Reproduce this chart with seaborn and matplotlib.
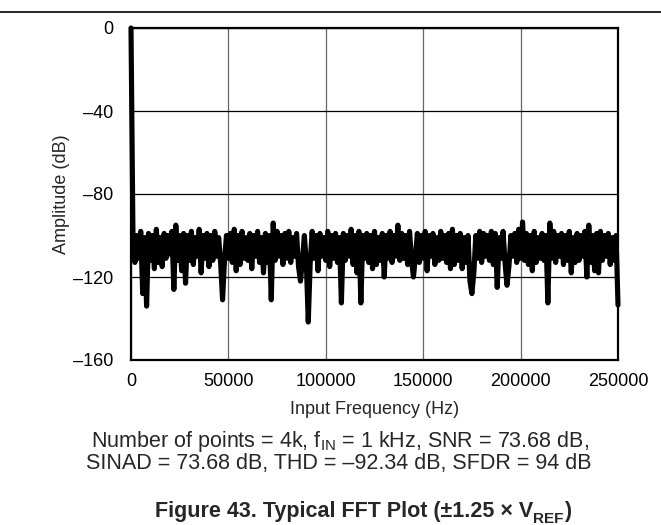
import numpy as np
import pandas as pd
import matplotlib
matplotlib.use("Agg")
import matplotlib.pyplot as plt
import seaborn as sns

# FFT amplitude (dB), one value per 1 kHz from 0 to 250 kHz
amp_db = [
    0, -99, -113, -100, -111, -98, -128, -101, -134, -99,
    -112, -100, -116, -97, -113, -101, -115, -99, -111, -100,
    -109, -98, -126, -95, -112, -100, -117, -99, -123, -100,
    -112, -98, -114, -101, -110, -97, -118, -100, -111, -99,
    -115, -100, -112, -98, -110, -101, -113, -131, -112, -100,
    -111, -99, -113, -97, -117, -100, -114, -98, -111, -101,
    -112, -99, -116, -100, -110, -98, -113, -101, -118, -99,
    -113, -100, -131, -94, -112, -98, -110, -100, -114, -99,
    -111, -98, -113, -101, -110, -99, -115, -122, -112, -100,
    -113, -141.7, -113, -98, -111, -100, -117, -99, -110, -101,
    -112, -98, -115, -100, -111, -99, -113, -101, -132.5, -99,
    -112, -100, -110, -97, -114, -100, -118, -98, -132.5, -100,
    -111, -99, -113, -100, -116, -98, -114, -101, -112, -99,
    -120, -100, -111, -98, -113, -100, -110, -95, -112, -99,
    -111, -100, -114, -98, -112, -120, -110, -99, -113, -100,
    -111, -98, -117, -100, -110, -99, -114, -101, -112, -98,
    -111, -100, -113, -99, -116, -97, -114, -100, -112, -99,
    -116, -101, -113, -100, -122, -128, -118, -100, -111, -98,
    -113, -99, -110, -100, -112, -98, -114, -99, -125, -101,
    -111, -98, -113, -124, -115, -100, -110, -99, -113, -97,
    -111, -93.5, -112, -99, -114, -100, -117, -98, -113, -101,
    -111, -99, -112, -100, -132.5, -94, -111, -98, -113, -100,
    -110, -99, -114, -100, -112, -98, -118, -101, -113, -99,
    -112, -100, -110, -98, -120, -95, -113, -100, -117, -99,
    -118, -98, -112, -100, -110, -99, -114, -101, -112, -100,
    -133.5,
]
bin_width_hz = 1000
x_ticks = [0, 50000, 100000, 150000, 200000, 250000]
y_ticks = [0, -40, -80, -120, -160]
y_tick_labels = ["0", "\u201340", "\u201380", "\u2013120", "\u2013160"]

df = pd.DataFrame({
    "freq": np.arange(len(amp_db)) * bin_width_hz,
    "amp": amp_db,
})

sns.set_style("white")
plt.rcParams["font.family"] = ["Liberation Sans", "DejaVu Sans"]

W, H = 661, 525
fig = plt.figure(figsize=(W / 100, H / 100), dpi=100)
ax = fig.add_axes([131 / W, 1 - 360 / H, (618 - 131) / W, (360 - 28) / H])

sns.lineplot(data=df, x="freq", y="amp", ax=ax, color="black", linewidth=3.7,
             estimator=None, sort=False, clip_on=False,
             solid_joinstyle="round", solid_capstyle="round")

ax.set_xlim(0, 250000)
ax.set_ylim(-160, 0)
ax.set_xticks(x_ticks)
ax.set_xticklabels([str(t) for t in x_ticks])
ax.set_yticks(y_ticks)
ax.set_yticklabels(y_tick_labels)
ax.tick_params(axis="both", length=0, labelsize=13, colors="black")
ax.tick_params(axis="y", pad=13)
ax.tick_params(axis="x", pad=9)
ax.grid(True, axis="y", color="black", linewidth=0.9)
ax.grid(True, axis="x", color="#666666", linewidth=0.9)
ax.set_axisbelow(True)
for s in ax.spines.values():
    s.set_color("black")
    s.set_linewidth(1.6)

ax.set_xlabel("Input Frequency (Hz)", fontsize=13, labelpad=8)
ax.set_ylabel("Amplitude (dB)", fontsize=13, labelpad=2)

# page header rule
fig.add_artist(plt.Line2D([0, 1], [1 - 12 / H, 1 - 12 / H], color="black", linewidth=1.2))

fig.text(340 / W, 1 - 441 / H, "Number of points = 4k, f$_\\mathregular{IN}$ = 1 kHz, SNR = 73.68 dB,",
         ha="center", va="center", fontsize=15.5)
fig.text(339 / W, 1 - 463 / H, "SINAD = 73.68 dB, THD = \u201392.34 dB, SFDR = 94 dB",
         ha="center", va="center", fontsize=15.5)

# figure caption, with bold subscript built from chained texts
t1 = fig.text(155 / W, 1 - 517 / H, "Figure 43. Typical FFT Plot (\u00b11.25 \u00d7 V",
              ha="left", va="baseline", fontsize=15.5, fontweight="bold")
t2 = ax.annotate("REF", xy=(1, 0), xycoords=t1, xytext=(0, -1), textcoords="offset points",
                 ha="left", va="baseline", fontsize=11, fontweight="bold", annotation_clip=False)
t3 = ax.annotate(")", xy=(1, 0), xycoords=(t2, t1), ha="left", va="bottom",
                 fontsize=15.5, fontweight="bold", annotation_clip=False)

fig.savefig("out.png", dpi=100, facecolor="white")
